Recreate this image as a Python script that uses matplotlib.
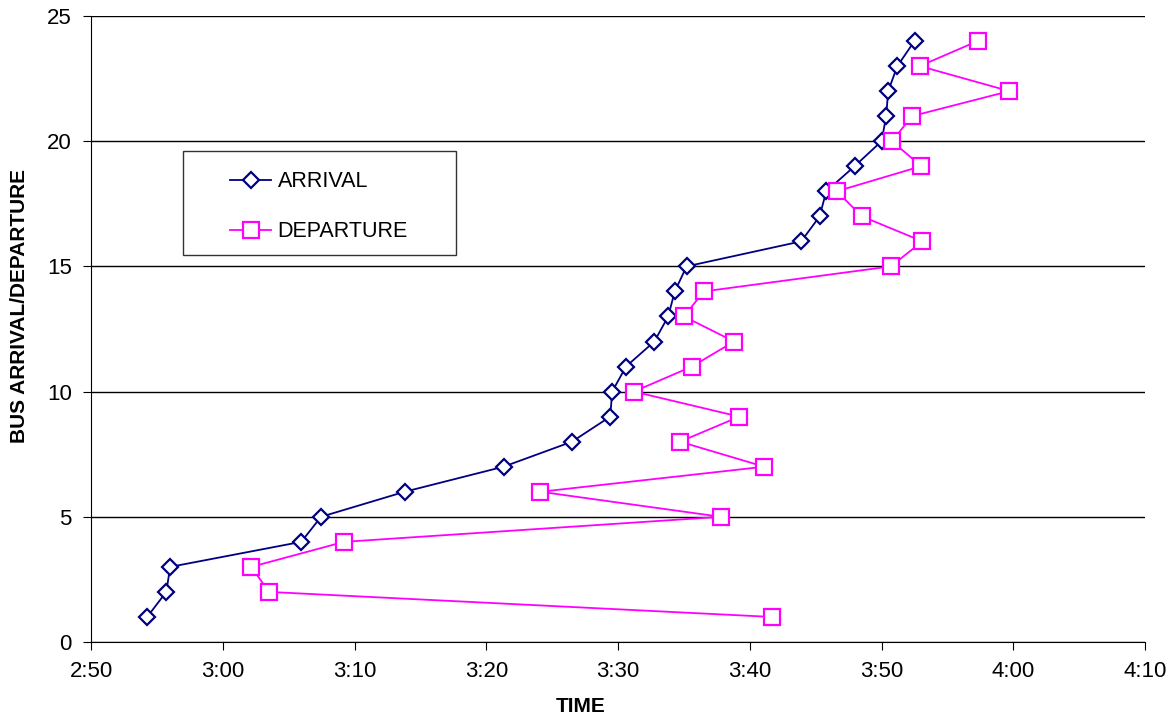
import matplotlib
matplotlib.use("Agg")
import matplotlib.pyplot as plt
from matplotlib.patches import Rectangle
from matplotlib.ticker import FuncFormatter, MultipleLocator

plt.rcParams['font.family'] = ['Liberation Sans', 'DejaVu Sans']

# bus number (1..24)
bus = list(range(1, 25))

# times in minutes after 2:00
arrival = [54.25, 55.7, 56.0, 65.95, 67.45, 73.8, 81.3, 86.5, 89.4, 89.55,
           90.6, 92.75, 93.8, 94.3, 95.2, 103.9, 105.3, 105.8, 107.95, 110.0,
           110.35, 110.5, 111.2, 112.5]
departure = [101.7, 63.5, 62.15, 69.2, 97.8, 84.1, 101.1, 94.7, 99.2, 91.2,
             95.6, 98.8, 95.0, 96.5, 110.7, 113.1, 108.5, 106.6, 113.0, 110.8,
             112.3, 119.7, 112.9, 117.3]

fig = plt.figure(figsize=(11.69, 7.17), dpi=100)
ax = fig.add_axes([0.078, 0.1046, 0.9015, 0.8731])

ax.plot(arrival, bus, color='#000080', lw=1.3, marker='D', ms=8,
        mfc='white', mec='#000080', mew=1.6, label='ARRIVAL', zorder=3)
ax.plot(departure, bus, color='#FF00FF', lw=1.3, marker='s', ms=11,
        mfc='white', mec='#FF00FF', mew=1.6, label='DEPARTURE', zorder=3)

ax.set_xlim(50, 130)
ax.set_ylim(0, 25)
ax.xaxis.set_major_locator(MultipleLocator(10))
ax.yaxis.set_major_locator(MultipleLocator(5))
ax.xaxis.set_major_formatter(FuncFormatter(
    lambda v, p: f"{2 + int(v) // 60}:{int(v) % 60:02d}"))

ax.grid(axis='y', color='black', lw=1)
ax.set_axisbelow(True)
for s in ['top', 'right']:
    ax.spines[s].set_visible(False)
for s in ['left', 'bottom']:
    ax.spines[s].set_color('black')
ax.tick_params(direction='out', length=6, labelsize=16, pad=8)

ax.set_xlabel('TIME', fontsize=15, fontweight='bold')
ax.set_ylabel('BUS ARRIVAL/DEPARTURE', fontsize=15, fontweight='bold')
ax.xaxis.set_label_coords(0.464, -0.088)
ax.yaxis.set_label_coords(-0.059, 0.537)

# legend box drawn separately so its size matches the original
ax.add_patch(Rectangle((0.0873, 0.618), 0.259, 0.166, transform=ax.transAxes,
                       facecolor='white', edgecolor='#333333', lw=1, zorder=4))
leg = ax.legend(loc='upper left', bbox_to_anchor=(0.132, 0.752), fontsize=15.5,
                frameon=False, handlelength=1.9, handletextpad=0.3,
                labelspacing=1.35, borderpad=0, borderaxespad=0)
leg.set_zorder(5)

fig.savefig('out.png')
